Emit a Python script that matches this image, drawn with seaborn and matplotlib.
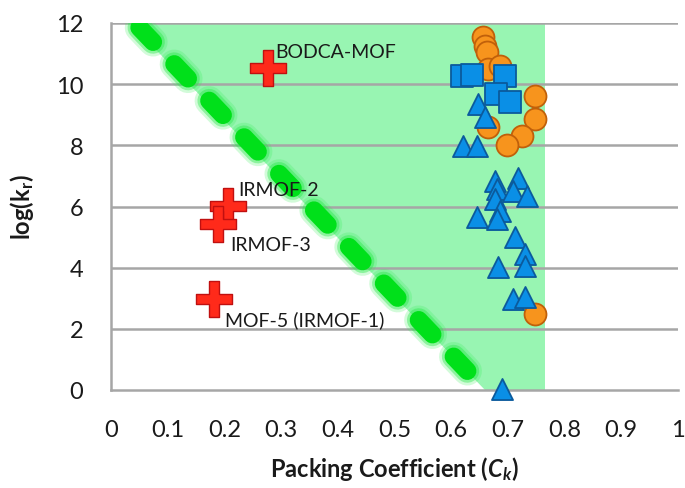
import matplotlib
matplotlib.use("Agg")
import matplotlib.pyplot as plt
import seaborn as sns
import pandas as pd
import numpy as np

# ---------------- data ----------------
cross_x = [0.277, 0.206, 0.189, 0.182]
cross_y = [10.52, 6.01, 5.42, 2.97]
cross_labels = ["BODCA-MOF", "IRMOF-2", "IRMOF-3", "MOF-5 (IRMOF-1)"]
label_x = [0.289, 0.224, 0.210, 0.201]
label_y = [11.08, 6.57, 4.77, 2.32]

square_x = [0.619, 0.637, 0.695, 0.679, 0.704]
square_y = [10.26, 10.29, 10.26, 9.67, 9.41]

circle_x = [0.656, 0.660, 0.663, 0.665, 0.686, 0.748, 0.748, 0.725, 0.698, 0.665, 0.748]
circle_y = [11.54, 11.24, 11.05, 10.49, 10.59, 9.61, 8.86, 8.30, 8.01, 8.59, 2.48]

tri_x = [0.647, 0.660, 0.621, 0.646, 0.677, 0.718, 0.681, 0.709, 0.734, 0.677,
         0.646, 0.686, 0.681, 0.713, 0.730, 0.730, 0.683, 0.709, 0.730, 0.690]
tri_y = [9.35, 8.92, 7.97, 7.97, 6.83, 6.93, 6.57, 6.50, 6.34, 6.24,
         5.65, 5.85, 5.59, 5.00, 4.44, 4.05, 4.02, 2.97, 3.04, 0.03]

guide_x = [0.05, 0.64]
guide_y = [11.85, 0.40]
region_x = [0.034, 0.765, 0.765, 0.66]
region_y = [12.0, 12.0, 0.0, 0.0]

x_ticks = [0, 0.1, 0.2, 0.3, 0.4, 0.5, 0.6, 0.7, 0.8, 0.9, 1]
x_ticklabels = ["0", "0.1", "0.2", "0.3", "0.4", "0.5", "0.6", "0.7", "0.8", "0.9", "1"]
y_ticks = [0, 2, 4, 6, 8, 10, 12]

# ---------------- style ----------------
sns.set_theme(style="white")
plt.rcParams['font.family'] = ['Lato', 'DejaVu Sans']
plt.rcParams['mathtext.fontset'] = 'custom'
plt.rcParams['mathtext.rm'] = 'Lato'
plt.rcParams['mathtext.it'] = 'Lato:italic'
plt.rcParams['mathtext.bf'] = 'Lato:bold'
plt.rcParams['mathtext.bfit'] = 'Lato:bold:italic'

fig = plt.figure(figsize=(6.85, 4.89), dpi=100)
ax = fig.add_axes([111/685, 1-391/489, 567/685, 367/489])

grid_c = "#a6a6a6"
for yv in y_ticks[1:]:
    ax.axhline(yv, color=grid_c, lw=1.8, zorder=1)

# shaded region
ax.fill(region_x, region_y, color="#98f5b2", lw=0, zorder=0)

# green dashed guide line with glow
guide = pd.DataFrame({"x": guide_x, "y": guide_y})
base_lw = 13
for lw, alpha, col in [(21, 0.22, "#33ee55"), (17, 0.4, "#22e844"), (13, 1.0, "#00e01a")]:
    sns.lineplot(data=guide, x="x", y="y", ax=ax, color=col, lw=lw, alpha=alpha,
                 zorder=2, legend=False)
    ln = ax.lines[-1]
    ln.set_dash_capstyle('round')
    on = 1.1 * base_lw / lw
    off = 1.7 * base_lw / lw
    ln.set_dashes([on, off])

# markers
sq = pd.DataFrame({"x": square_x, "y": square_y})
ci = pd.DataFrame({"x": circle_x, "y": circle_y})
tr = pd.DataFrame({"x": tri_x, "y": tri_y})
cr = pd.DataFrame({"x": cross_x, "y": cross_y})

h = 0.13
plus_verts = [(-h, 0.5), (h, 0.5), (h, h), (0.5, h), (0.5, -h), (h, -h), (h, -0.5),
              (-h, -0.5), (-h, -h), (-0.5, -h), (-0.5, h), (-h, h), (-h, 0.5)]

sns.scatterplot(data=ci, x="x", y="y", ax=ax, marker="o", s=250, color="#f7941d",
                edgecolor="#c0600a", linewidth=1.3, zorder=4, clip_on=False)
sns.scatterplot(data=sq, x="x", y="y", ax=ax, marker="s", s=230, color="#0a8fe6",
                edgecolor="#0b5a9c", linewidth=1.3, zorder=5, clip_on=False)
sns.scatterplot(data=tr, x="x", y="y", ax=ax, marker="^", s=230, color="#0a8fe6",
                edgecolor="#0b5a9c", linewidth=1.3, zorder=5, clip_on=False)
sns.scatterplot(data=cr, x="x", y="y", ax=ax, marker=plus_verts, s=640, color="#ff2a1a",
                edgecolor="#c01010", linewidth=1.0, zorder=6, clip_on=False)

for lx, ly, t in zip(label_x, label_y, cross_labels):
    ax.text(lx, ly, t, fontsize=14, ha="left", va="center", color="#1a1a1a", zorder=7)

ax.set_xlim(0, 1)
ax.set_ylim(0, 12)
ax.set_xticks(x_ticks)
ax.set_xticklabels(x_ticklabels)
ax.set_yticks(y_ticks)
ax.tick_params(axis="both", labelsize=17, colors=grid_c, labelcolor="#1a1a1a",
               length=7, width=1.6, direction="out")
ax.tick_params(axis="x", pad=14)
ax.tick_params(axis="y", pad=10, length=10)

for s in ["top", "right"]:
    ax.spines[s].set_visible(False)
for s in ["left", "bottom"]:
    ax.spines[s].set_color(grid_c)
    ax.spines[s].set_linewidth(1.8)

ax.set_xlabel(r"Packing Coefficient ($\mathbfit{C}_{\mathbfit{k}}$)", fontsize=17,
              fontweight="bold", labelpad=10, color="#1a1a1a")
ax.set_ylabel(r"log(k$_{\mathbf{r}}$)", fontsize=17, fontweight="bold", labelpad=14,
              color="#1a1a1a")

fig.savefig("out.png", dpi=100)
